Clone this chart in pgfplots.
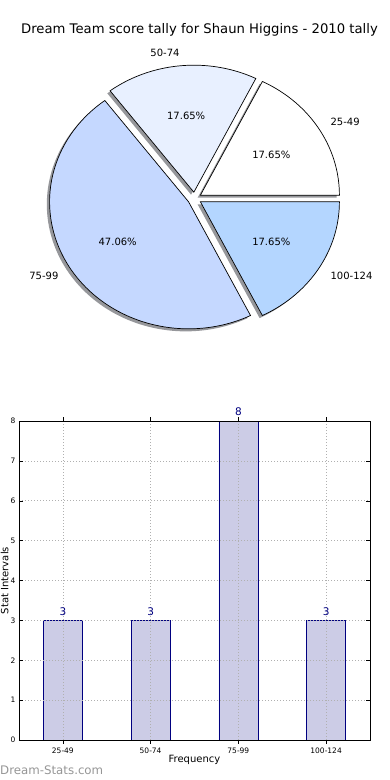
\documentclass[border=0pt]{standalone}
\usepackage{pgfplots}
\usepackage{pgfplotstable}
\pgfplotsset{compat=1.18}
\usepackage{fontspec}
\setmainfont{DejaVu Sans}

\definecolor{pieA}{RGB}{255,255,255}
\definecolor{pieB}{RGB}{232,240,255}
\definecolor{pieC}{RGB}{197,216,255}
\definecolor{pieD}{RGB}{180,214,255}
\definecolor{shadowc}{RGB}{150,151,155}
\definecolor{barfill}{RGB}{204,204,230}
\definecolor{baredge}{RGB}{0,0,128}
\definecolor{gridc}{RGB}{176,176,176}
\definecolor{wmark}{RGB}{150,150,150}

\pgfplotstableread{
idx label count
0 25-49 3
1 50-74 3
2 75-99 8
3 100-124 3
}\tally

\def\explode{0.05}
\newcommand{\pielabelfont}{\fontsize{10}{12}\selectfont}

\newcommand{\pieshadow}[2]{%
  \pgfmathsetmacro\pmid{(#1+#2)/2}%
  \pgfmathsetmacro\pox{\explode*cos(\pmid)-0.02}%
  \pgfmathsetmacro\poy{\explode*sin(\pmid)-0.02}%
  \edef\ptmp{%
    \noexpand\addplot[draw=none, fill=shadowc, domain=#1:#2, samples=90, variable=\noexpand\t]
      ({\pox+cos(\noexpand\t)},{\poy+sin(\noexpand\t)}) -- (axis cs:\pox,\poy) -- cycle;
  }%
  \ptmp
}

\newcommand{\pieslice}[6]{%
  \pgfmathsetmacro\pmid{(#1+#2)/2}%
  \pgfmathsetmacro\pox{\explode*cos(\pmid)}%
  \pgfmathsetmacro\poy{\explode*sin(\pmid)}%
  \pgfmathsetmacro\ptx{(\explode+0.6)*cos(\pmid)}%
  \pgfmathsetmacro\pty{(\explode+0.6)*sin(\pmid)}%
  \pgfmathsetmacro\plx{(\explode+1.1)*cos(\pmid)}%
  \pgfmathsetmacro\ply{(\explode+1.1)*sin(\pmid)}%
  \edef\ptmp{%
    \noexpand\addplot[draw=black, line width=0.7pt, fill=#3, domain=#1:#2, samples=90, variable=\noexpand\t]
      ({\pox+cos(\noexpand\t)},{\poy+sin(\noexpand\t)}) -- (axis cs:\pox,\poy) -- cycle;
    \noexpand\node[font=\noexpand\pielabelfont] at (axis cs:\ptx,\pty) {\unexpanded{#5}};
    \noexpand\node[font=\noexpand\pielabelfont, anchor=#6, inner sep=0pt] at (axis cs:\plx,\ply) {\unexpanded{#4}};
  }%
  \ptmp
}

\begin{document}
\begin{tikzpicture}
\path[use as bounding box] (0,0) rectangle (390pt,780pt);
\clip (0,0) rectangle (390pt,780pt);

% pie angles from the counts
\pgfplotstablegetelem{0}{count}\of\tally \let\vA\pgfplotsretval
\pgfplotstablegetelem{1}{count}\of\tally \let\vB\pgfplotsretval
\pgfplotstablegetelem{2}{count}\of\tally \let\vC\pgfplotsretval
\pgfplotstablegetelem{3}{count}\of\tally \let\vD\pgfplotsretval
\pgfmathsetmacro\tot{\vA+\vB+\vC+\vD}
\pgfmathsetmacro\aA{360*\vA/\tot}
\pgfmathsetmacro\aB{\aA+360*\vB/\tot}
\pgfmathsetmacro\aC{\aB+360*\vC/\tot}

\node[font=\fontsize{13.2}{15}\selectfont] at (199.5pt,750pt) {Dream Team score tally for Shaun Higgins - 2010 tally};

\begin{axis}[at={(194.5pt,581.5pt)}, anchor=center, scale only axis,
  width=417pt, height=381pt, xmin=-1.5, xmax=1.5, ymin=-1.5, ymax=1.5,
  hide axis, clip=false]
\pieshadow{0}{\aA}
\pieshadow{\aA}{\aB}
\pieshadow{\aB}{\aC}
\pieshadow{\aC}{360}
\pieslice{0}{\aA}{pieA}{25-49}{17.65\%}{west}
\pieslice{\aA}{\aB}{pieB}{50-74}{17.65\%}{east}
\pieslice{\aB}{\aC}{pieC}{75-99}{47.06\%}{east}
\pieslice{\aC}{360}{pieD}{100-124}{17.65\%}{west}
\end{axis}

\begin{axis}[at={(19pt,40pt)}, anchor=south west, scale only axis,
  width=351pt, height=319pt,
  xmin=-0.5, xmax=3.5, ymin=0, ymax=8,
  xtick={0,1,2,3}, xticklabels={25-49,50-74,75-99,100-124},
  ytick={0,1,...,8},
  tick align=inside, major tick length=4pt,
  tick style={black, line width=0.5pt},
  grid=major, grid style={gridc, line width=0.7pt, dash pattern=on 1pt off 2pt},
  axis line style={line width=0.8pt},
  ticklabel style={font=\fontsize{7.5}{9}\selectfont},
  /pgf/number format/assume math mode=true,
  xlabel={Frequency}, ylabel={Stat Intervals},
  label style={font=\fontsize{10}{12}\selectfont},
  xlabel style={at={(axis description cs:0.5,-0.0627)}, anchor=center},
  ylabel style={at={(axis description cs:-0.041,0.5)}, anchor=center},
  axis on top, clip=false,
  ybar, bar width=39pt,
  nodes near coords,
  nodes near coords style={font=\fontsize{10.5}{12}\selectfont, color=baredge, yshift=1.5pt},
]
\addplot[fill=barfill, draw=baredge, line width=0.7pt] table[x=idx, y=count] {\tally};
\end{axis}

\node[anchor=west, text=wmark, font=\fontsize{11.8}{14}\selectfont, inner sep=0pt] at (0pt,10pt) {Dream-Stats.com};
\end{tikzpicture}
\end{document}
